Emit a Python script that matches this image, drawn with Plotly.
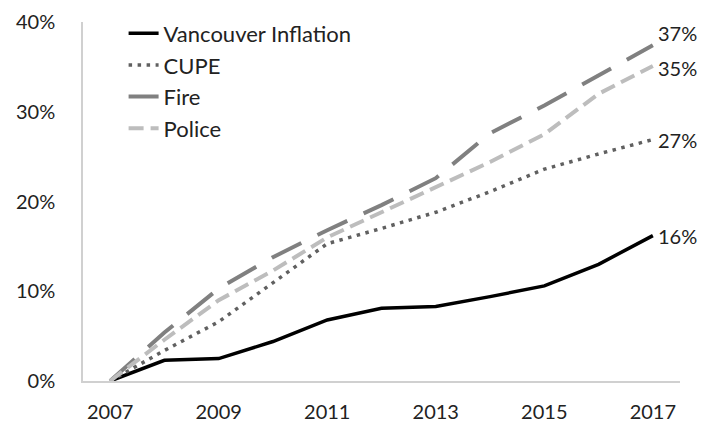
import plotly.graph_objects as go

years = [2007, 2008, 2009, 2010, 2011, 2012, 2013, 2014, 2015, 2016, 2017]
vancouver = [0.0, 2.3, 2.5, 4.4, 6.8, 8.1, 8.3, 9.4, 10.6, 13.0, 16.2]
cupe = [0.0, 3.4, 6.6, 11.0, 15.3, 17.0, 18.8, 21.1, 23.6, 25.3, 26.9]
fire = [0.0, 5.4, 10.3, 13.8, 16.8, 19.6, 22.6, 27.6, 30.7, 34.0, 37.4]
police = [0.0, 4.6, 9.0, 12.3, 16.0, 18.8, 21.7, 24.4, 27.5, 32.0, 35.1]
end_labels = ["16%", "27%", "37%", "35%"]

FONT = "Lato"

fig = go.Figure()

series = [
    ("Vancouver Inflation", vancouver, dict(color="#000000", width=3.5, dash="solid")),
    ("CUPE", cupe, dict(color="#606060", width=3.5, dash="3.5px,5.5px")),
    ("Fire", fire, dict(color="#808080", width=4, dash="33px,18px")),
    ("Police", police, dict(color="#bdbdbd", width=4, dash="15px,7px")),
]

for i, (name, vals, line) in enumerate(series):
    fig.add_trace(go.Scatter(
        x=years, y=vals, name=name, mode="lines", line=line,
        legendgroup=f"g{i}",
    ))

# end labels
yshifts = [0, 0, 12, -2]
for (name, vals, line), lab, ys in zip(series, end_labels, yshifts):
    fig.add_annotation(
        x=years[-1], y=vals[-1], text=lab, showarrow=False,
        xanchor="left", yanchor="middle", xshift=3, yshift=ys,
        font=dict(family=FONT, size=20, color="#222222"),
    )

# the page body adds an 8px offset; compensate in size and margins
fig.update_layout(
    width=708, height=415,
    margin=dict(l=75, r=36, t=14, b=42, autoexpand=False),
    paper_bgcolor="white", plot_bgcolor="white",
    font=dict(family=FONT, size=20, color="#222222"),
    legend=dict(
        x=0.068, y=0.989, xanchor="left", yanchor="top", yref="container",
        bgcolor="rgba(0,0,0,0)", tracegroupgap=0,
        font=dict(family=FONT, size=22, color="#222222"),
        itemwidth=30,
    ),
    showlegend=True,
)

fig.update_xaxes(
    range=[2006.5, 2017.5], tickvals=years[::2], ticktext=[str(y) for y in years[::2]],
    showgrid=False, zeroline=False, showline=True, linecolor="#d0d0d0", linewidth=1.5,
    ticks="", ticklabelstandoff=12, automargin=False,
)
fig.update_yaxes(
    range=[0, 40], tickvals=[0, 10, 20, 30, 40], ticktext=["0%", "10%", "20%", "30%", "40%"],
    showgrid=False, zeroline=False, showline=True, linecolor="#d0d0d0", linewidth=1.5,
    ticks="", ticklabelstandoff=22, automargin=False,
)

fig.write_html("out.html")
